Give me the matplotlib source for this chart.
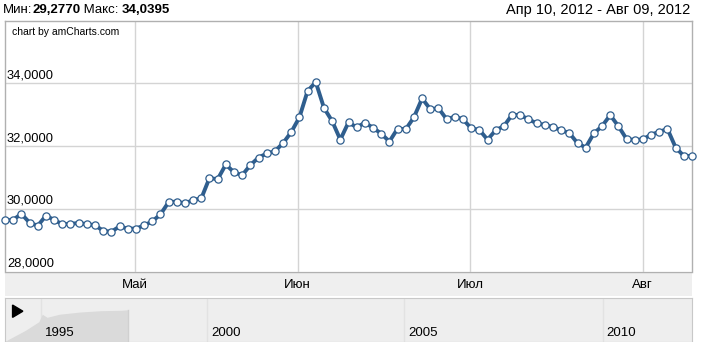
import numpy as np
import matplotlib.pyplot as plt
from matplotlib import patches

plt.rcParams['font.family'] = ['Liberation Sans', 'DejaVu Sans']

# USD/RUB, trading days Apr 10 - Aug 09, 2012
rates = [29.64, 29.66, 29.85, 29.57, 29.47, 29.79, 29.66, 29.52, 29.53, 29.56,
         29.52, 29.49, 29.31, 29.28, 29.45, 29.38, 29.38, 29.48, 29.61, 29.83,
         30.22, 30.24, 30.18, 30.29, 30.34, 30.99, 30.95, 31.42, 31.17, 31.08,
         31.40, 31.64, 31.77, 31.84, 32.10, 32.45, 32.92, 33.76, 34.04, 33.22,
         32.80, 32.21, 32.76, 32.60, 32.75, 32.59, 32.40, 32.15, 32.56, 32.54,
         32.92, 33.52, 33.18, 33.21, 32.86, 32.94, 32.86, 32.57, 32.52, 32.21,
         32.51, 32.64, 33.00, 32.99, 32.86, 32.73, 32.68, 32.61, 32.51, 32.42,
         32.10, 31.96, 32.41, 32.64, 32.99, 32.64, 32.23, 32.20, 32.22, 32.37,
         32.46, 32.55, 31.96, 31.69, 31.69]
month_labels = ['Май', 'Июн', 'Июл', 'Авг']
month_pos = [15.93, 35.78, 56.85, 77.96]
y_ticks = [28, 30, 32, 34]
y_tick_labels = ['28,0000', '30,0000', '32,0000', '34,0000']
min_text = '29,2770'
max_text = '34,0395'
range_text = 'Апр 10, 2012 - Авг 09, 2012'

# scrollbar: history area (fraction of scrollbar width, level 0..1)
hist_x = [0.0, 0.03, 0.05, 0.055, 0.062, 0.08, 0.11, 0.14, 0.17, 0.179, 0.179]
hist_y = [0.0, 0.25, 0.45, 0.62, 0.55, 0.62, 0.67, 0.70, 0.71, 0.72, 0.0]
years = ['1995', '2000', '2005', '2010']
year_pos = [0.058, 0.3, 0.587, 0.876]

W, H = 710, 342
fig = plt.figure(figsize=(W / 100, H / 100), dpi=100)
fig.patch.set_facecolor('white')

def px_axes(x0, y0, x1, y1):
    return fig.add_axes([x0 / W, 1 - y1 / H, (x1 - x0) / W, (y1 - y0) / H])

line_col = '#2f5e8e'
grid_col = '#d4d4d4'
fs = 9

# main plot
ax = px_axes(5, 20.5, 692, 272)
x = np.arange(len(rates))
ax.plot(x, rates, color=line_col, lw=2.8, zorder=3, clip_on=False,
        marker='o', ms=5.2, mfc='white', mec=line_col, mew=0.9)
ax.set_xlim(0, len(rates) - 1)
ax.set_ylim(28, 36)
for v in y_ticks:
    ax.axhline(v, color=grid_col, lw=1, zorder=1)
for p in month_pos:
    ax.axvline(p, color=grid_col, lw=1, zorder=1)
for v, lab in zip(y_ticks, y_tick_labels):
    ax.text(0.003, v + 0.07, lab, transform=ax.get_yaxis_transform(),
            ha='left', va='bottom', fontsize=fs + 0.3, color='black')
ax.text(0.01, 0.955, 'chart by amCharts.com', transform=ax.transAxes,
        ha='left', va='center', fontsize=7.5, color='black')
ax.set_xticks([])
ax.set_yticks([])
ax.spines['bottom'].set_visible(False)
for s in ax.spines.values():
    s.set_color('#b0b0b0')
    s.set_linewidth(1)

# month band
bx = px_axes(5, 272, 692, 296)
bx.set_facecolor('#efefef')
bx.set_xlim(0, len(rates) - 1)
bx.set_ylim(0, 1)
for p, lab in zip(month_pos, month_labels):
    bx.text(p, 0.45, lab, ha='center', va='center', fontsize=fs + 0.5)
bx.set_xticks([])
bx.set_yticks([])
for s in bx.spines.values():
    s.set_visible(False)
bx.axhline(1, color='#b0b0b0', lw=1)

# scrollbar
sx = px_axes(5, 298, 692, 342)
sx.set_facecolor('#eeeeee')
sx.set_xlim(0, 1)
sx.set_ylim(0, 1)
sx.fill(hist_x, hist_y, color='#dadada', lw=0, zorder=1)
sx.plot([hist_x[-2]] * 2, [0, hist_y[-2]], color='#d0d0d0', lw=1)
for p, lab in zip(year_pos, years):
    sx.axvline(p - 0.006, color='#e2e2e2', lw=1, zorder=0)
    sx.text(p, 0.2, lab, ha='left', va='center', fontsize=fs + 0.5)
sx.add_patch(patches.Polygon([[0.011, 0.84], [0.011, 0.56], [0.026, 0.70]],
                             closed=True, color='black', zorder=3))
sx.set_xticks([])
sx.set_yticks([])
for s in sx.spines.values():
    s.set_color('#c8c8c8')

# header, pieces chained one after another
renderer = fig.canvas.get_renderer()
xpos = 3
for txt, bold in [('Мин:', False), (min_text, True), (' Макс:', False), (max_text, True)]:
    t = fig.text(xpos / W, 1 - 10 / H, txt, ha='left', va='center', fontsize=9.5,
                 fontweight='bold' if bold else 'normal')
    xpos += t.get_window_extent(renderer).width + (3 if txt.startswith(' ') else 0)
fig.text(690 / W, 1 - 10 / H, range_text, ha='right', va='center', fontsize=10.5)

fig.savefig('out.png', dpi=100)
